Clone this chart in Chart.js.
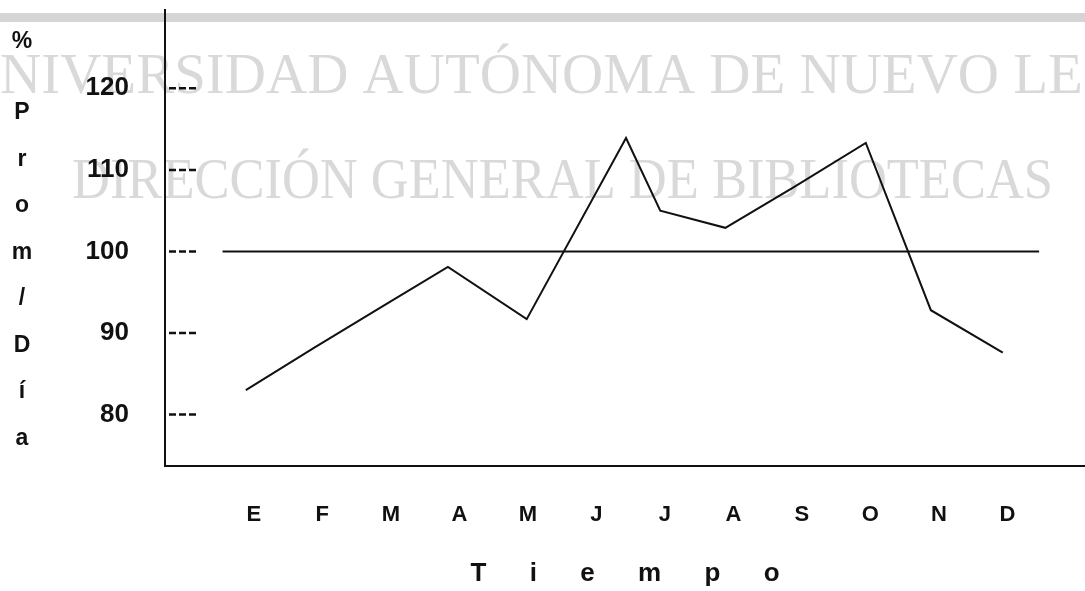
<!DOCTYPE html>
<html>
<head>
<meta charset="utf-8">
<title>Prom/Día</title>
<script src="https://cdn.jsdelivr.net/npm/chart.js@4.4.1/dist/chart.umd.min.js"></script>
<style>
    html, body { margin: 0; padding: 0; background: #fff; }
    #wrap { width: 1085px; height: 591px; }
</style>
</head>
<body>
<div id="wrap"><canvas id="chart"></canvas></div>
<script>
// Datos
const months = ["E", "F", "M", "A", "M", "J", "J", "A", "S", "O", "N", "D"];
const monthPos = [0, 1, 2, 2.95, 4.1, 5.55, 6.05, 7, 8, 9.05, 10, 11.05];
const promDia = [83.0, 88.2, 93.3, 98.1, 91.7, 113.9, 105.0, 102.9, 107.9, 113.3, 92.8, 87.6];
const yTicks = [80, 90, 100, 110, 120];
const baseline = 100;
const baselineSpan = [-0.34, 11.58];
const yTitle = ["%", "P", "r", "o", "m", "/", "D", "í", "a"];
const xTitle = ["T", "i", "e", "m", "p", "o"];
const watermark = ["UNIVERSIDAD AUTÓNOMA DE NUEVO LEÓN", "DIRECCIÓN GENERAL DE BIBLIOTECAS"];

const sans = '"Liberation Sans", Arial, Helvetica, sans-serif';
const ink = "#111";

// Fondo: banda gris y marca de agua; encima: guiones de las marcas y título vertical
const decor = {
    id: "decor",
    beforeDraw(chart) {
        const ctx = chart.ctx;
        ctx.save();
        ctx.fillStyle = "#d5d5d5";
        ctx.fillRect(0, 13, chart.width, 9);
        ctx.fillStyle = "#d9d9d9";
        ctx.font = '57px "Liberation Serif", "Times New Roman", serif';
        ctx.textBaseline = "alphabetic";
        ctx.textAlign = "left";
        ctx.fillText(watermark[0], -ctx.measureText("U").width, 93);
        ctx.fillText(watermark[1], 72, 198, 981);
        ctx.restore();
    },
    afterDraw(chart) {
        const ctx = chart.ctx;
        const y = chart.scales.y;
        const left = chart.chartArea.left;
        ctx.save();
        ctx.strokeStyle = ink;
        ctx.lineWidth = 2.5;
        ctx.setLineDash([7, 3]);
        yTicks.forEach(v => {
            const py = y.getPixelForValue(v);
            ctx.beginPath();
            ctx.moveTo(left + 4, py);
            ctx.lineTo(left + 33, py);
            ctx.stroke();
        });
        ctx.setLineDash([]);
        ctx.fillStyle = ink;
        ctx.font = "bold 23px " + sans;
        ctx.textAlign = "center";
        ctx.textBaseline = "middle";
        yTitle.forEach((ch, i) => {
            const py = i === 0 ? 42 : 113 + (i - 1) * 46.5;
            ctx.fillText(ch, 22, py);
        });
        ctx.restore();
    }
};

new Chart(document.getElementById("chart"), {
    type: "line",
    data: {
        datasets: [
            {
                data: months.map((m, i) => ({ x: monthPos[i], y: promDia[i] })),
                borderColor: ink,
                borderWidth: 2,
                pointRadius: 0,
                tension: 0
            },
            {
                data: baselineSpan.map(x => ({ x: x, y: baseline })),
                borderColor: ink,
                borderWidth: 2,
                pointRadius: 0
            }
        ]
    },
    options: {
        responsive: true,
        maintainAspectRatio: false,
        animation: false,
        layout: { padding: { top: 10, right: 0, bottom: 0, left: 0 } },
        plugins: {
            legend: { display: false },
            tooltip: { enabled: false }
        },
        scales: {
            x: {
                type: "linear",
                min: -1.18,
                max: 12.25,
                grid: { display: false, drawTicks: false },
                border: { display: true, color: ink, width: 2 },
                afterBuildTicks: s => { s.ticks = months.map((m, i) => ({ value: i })); },
                afterFit: s => {
                    s.height = 125;
                    s.paddingLeft = 0;
                    s.paddingRight = 0;
                },
                ticks: {
                    autoSkip: false,
                    maxRotation: 0,
                    padding: 36,
                    labelOffset: 8,
                    color: ink,
                    font: { family: sans, size: 22, weight: "bold" },
                    callback: v => months[v] ?? ""
                },
                title: {
                    display: true,
                    text: xTitle.join("      "),
                    color: ink,
                    font: { family: sans, size: 26, weight: "bold" },
                    padding: { top: 0, bottom: 2 }
                }
            },
            y: {
                min: 73.7,
                max: 129.6,
                grid: { display: false, drawTicks: false },
                border: { display: true, color: ink, width: 2 },
                afterBuildTicks: s => { s.ticks = yTicks.map(v => ({ value: v })); },
                afterFit: s => {
                    s.width = 165;
                    s.paddingTop = 0;
                    s.paddingBottom = 0;
                },
                ticks: {
                    padding: 36,
                    color: ink,
                    font: { family: sans, size: 26, weight: "bold" }
                }
            }
        }
    },
    plugins: [decor]
});
</script>
</body>
</html>
